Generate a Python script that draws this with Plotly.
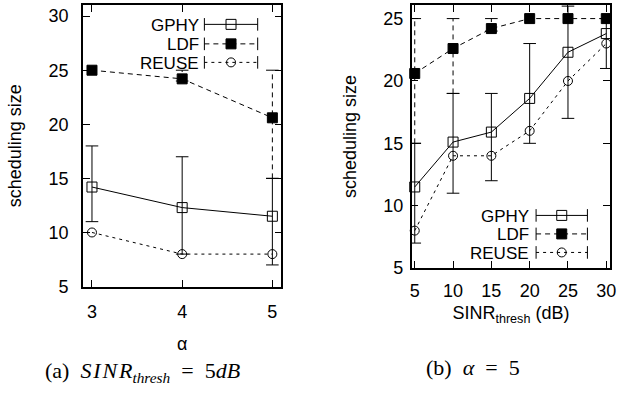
import plotly.graph_objects as go

# ---------------- data ----------------
alpha = [3, 4, 5]
a_gphy = [14.2, 12.3, 11.5]
a_gphy_lo = [11, 8, 7]
a_gphy_hi = [18, 17, 15]
a_ldf = [25, 24.2, 20.6]
a_ldf_lo = [None, 24, 15]
a_ldf_hi = [None, 25, 25]
a_reuse = [10, 8, 8]

sinr = [5, 10, 15, 20, 25, 30]
s_gphy = [11.5, 15.1, 15.9, 18.6, 22.3, 23.8]
s_gphy_lo = [7, 11, 12, 15, 17, 21]
s_gphy_hi = [15, 19, 19, 23, 26, 25]
s_ldf = [20.6, 22.6, 24.2, 25, 25, 25]
s_ldf_lo = [15, 19, 24, None, None, None]
s_ldf_hi = [25, 25, 25, None, None, None]
s_reuse = [8, 14, 14, 16, 20, 23]

series_names = ["GPHY", "LDF", "REUSE"]
left_yticks = [5, 10, 15, 20, 25, 30]
right_yticks = [5, 10, 15, 20, 25]

# ---------------- layout ----------------
W, H = 625, 395
BLACK = "black"
styles = {
    "GPHY": dict(dash="solid", symbol="square-open", size=10),
    "LDF": dict(dash="5px,4px", symbol="square", size=10),
    "REUSE": dict(dash="3px,4px", symbol="circle-open", size=9),
}

fig = go.Figure()


def add_series(x, y, name, xa, ya):
    st = styles[name]
    fig.add_trace(go.Scatter(
        x=x, y=y, mode="lines+markers", name=name, showlegend=False,
        xaxis=xa, yaxis=ya, cliponaxis=False,
        line=dict(color=BLACK, width=1, dash=st["dash"]),
        marker=dict(symbol=st["symbol"], size=st["size"], color=BLACK,
                    line=dict(color=BLACK, width=1)),
    ))


def add_errors(x, lo, hi, name, xa, ya):
    st = styles[name]
    ex, ey, cx, cy = [], [], [], []
    for xi, l, h in zip(x, lo, hi):
        if l is None:
            continue
        ex += [xi, xi, None]
        ey += [l, h, None]
        cx += [xi, xi]
        cy += [l, h]
    fig.add_trace(go.Scatter(
        x=ex, y=ey, mode="lines", showlegend=False, xaxis=xa, yaxis=ya,
        line=dict(color=BLACK, width=1, dash=st["dash"]),
        connectgaps=False, hoverinfo="skip"))
    fig.add_trace(go.Scatter(
        x=cx, y=cy, mode="markers", showlegend=False, xaxis=xa, yaxis=ya,
        marker=dict(symbol="line-ew", size=9, line=dict(color=BLACK, width=1)),
        hoverinfo="skip"))


# left panel
add_errors(alpha, a_gphy_lo, a_gphy_hi, "GPHY", "x", "y")
add_errors(alpha, a_ldf_lo, a_ldf_hi, "LDF", "x", "y")
add_series(alpha, a_gphy, "GPHY", "x", "y")
add_series(alpha, a_ldf, "LDF", "x", "y")
add_series(alpha, a_reuse, "REUSE", "x", "y")

# right panel
add_errors(sinr, s_gphy_lo, s_gphy_hi, "GPHY", "x2", "y2")
add_errors(sinr, s_ldf_lo, s_ldf_hi, "LDF", "x2", "y2")
add_series(sinr, s_gphy, "GPHY", "x2", "y2")
add_series(sinr, s_ldf, "LDF", "x2", "y2")
add_series(sinr, s_reuse, "REUSE", "x2", "y2")

# ---------------- custom legends (overlay pixel axes) ----------------
annotations = []
TXT = "Liberation Sans"


def add_legend(text_right, key_left, key_right, rows_y):
    for name, yy in zip(series_names, rows_y):
        st = styles[name]
        fig.add_trace(go.Scatter(
            x=[key_left, key_right], y=[yy, yy], mode="lines", showlegend=False,
            xaxis="x3", yaxis="y3", hoverinfo="skip",
            line=dict(color=BLACK, width=1, dash=st["dash"])))
        fig.add_trace(go.Scatter(
            x=[key_left, key_right], y=[yy, yy], mode="markers", showlegend=False,
            xaxis="x3", yaxis="y3", hoverinfo="skip",
            marker=dict(symbol="line-ns", size=9, line=dict(color=BLACK, width=1))))
        fig.add_trace(go.Scatter(
            x=[(key_left + key_right) / 2], y=[yy], mode="markers", showlegend=False,
            xaxis="x3", yaxis="y3", hoverinfo="skip",
            marker=dict(symbol=st["symbol"], size=st["size"], color=BLACK,
                        line=dict(color=BLACK, width=1))))
        annotations.append(dict(
            x=text_right, y=yy + 1, xref="x3", yref="y3", text=name, showarrow=False,
            xanchor="right", yanchor="middle",
            font=dict(family=TXT, size=17, color=BLACK)))


add_legend(202, 205, 259, [25, 45, 64])
add_legend(536, 541, 593, [221, 240, 259])

# captions
cap_font = dict(family="Liberation Serif", size=22, color=BLACK)
annotations.append(dict(
    x=142, y=382, xref="x3", yref="y3", showarrow=False,
    xanchor="center", yanchor="middle",
    text="(a)&nbsp;&nbsp;<i>S\u200aI\u200aN\u200aR</i><sub><i>thresh</i></sub>&nbsp;&nbsp;=&nbsp;&nbsp;5<i>dB</i>",
    font=cap_font))
annotations.append(dict(
    x=477, y=377, xref="x3", yref="y3", showarrow=False,
    xanchor="center", yanchor="middle",
    text="(b)&nbsp;&nbsp;<i>α</i>&nbsp;&nbsp;=&nbsp;&nbsp;5", font=cap_font))

axis_common = dict(
    showgrid=False, zeroline=False, showline=True, linecolor=BLACK, linewidth=1.5,
    mirror="allticks", ticks="inside", ticklen=7, tickwidth=1, tickcolor=BLACK,
    tickfont=dict(family=TXT, size=18, color=BLACK), ticklabeloverflow="allow",
)
title_font = dict(family=TXT, size=18, color=BLACK)

fig.update_layout(
    width=W, height=H,
    margin=dict(l=0, r=0, t=0, b=0),
    paper_bgcolor="white", plot_bgcolor="rgba(0,0,0,0)",
    xaxis=dict(domain=[82 / W, 283 / W], range=[2.9, 5.1], tickvals=alpha,
               ticklabelstandoff=8,
               title=dict(text="α", font=title_font, standoff=16), anchor="y", **axis_common),
    yaxis=dict(domain=[(H - 294) / H, (H - 5) / H], range=[5, 31.04],
               tickvals=left_yticks, ticklabelstandoff=9,
               title=dict(text="scheduling size", font=title_font, standoff=22), anchor="x",
               **axis_common),
    xaxis2=dict(domain=[415 / W, 616 / W], range=[4.6, 30.5], tickvals=sinr,
                ticklabelstandoff=6,
                title=dict(text="SINR<sub>thresh</sub> (dB)", font=title_font, standoff=6),
                anchor="y2", **axis_common),
    yaxis2=dict(domain=[(H - 275) / H, (H - 5) / H], range=[5, 26.1],
                tickvals=right_yticks, ticklabelstandoff=3,
                title=dict(text="scheduling size", font=title_font, standoff=22), anchor="x2",
                **axis_common),
    xaxis3=dict(domain=[0, 1], range=[0, W], visible=False, anchor="y3", fixedrange=True),
    yaxis3=dict(domain=[0, 1], range=[H, 0], visible=False, anchor="x3", fixedrange=True),
    annotations=annotations,
    showlegend=False,
)

fig.write_html(
    "out.html",
    config={"displayModeBar": False},
    post_script="document.body.style.margin='0';document.body.style.overflow='hidden';",
)
